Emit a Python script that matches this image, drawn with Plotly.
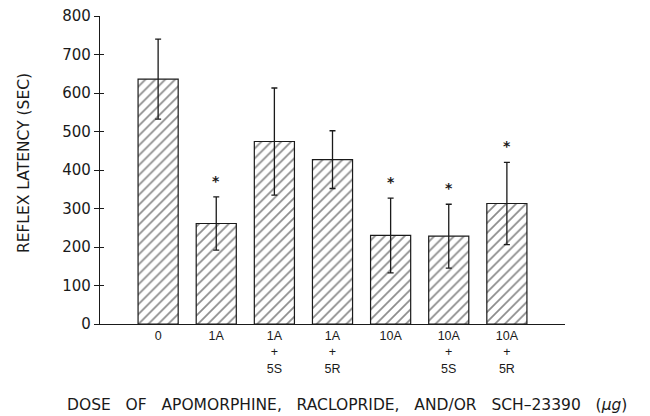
import plotly.graph_objects as go

categories = ["0", "1A", "1A<br>+<br>5S", "1A<br>+<br>5R", "10A", "10A<br>+<br>5S", "10A<br>+<br>5R"]
means = [636, 261, 474, 427, 230, 228, 313]
errors = [104, 69, 139, 75, 97, 83, 107]
significant = [False, True, False, False, True, True, True]
y_ticks = [0, 100, 200, 300, 400, 500, 600, 700, 800]

xpos = list(range(len(categories)))
ink = "#1a1a1a"
font = "DejaVu Sans, sans-serif"
sp = "\u00a0\u00a0 "

fig = go.Figure()
fig.add_trace(go.Bar(
    x=xpos, y=means, width=0.69,
    marker=dict(color="white", line=dict(color=ink, width=1.2),
                pattern=dict(shape="/", fgcolor=ink, bgcolor="white", size=7, solidity=0.25)),
    error_y=dict(type="data", array=errors, color=ink, thickness=1.3, width=3),
    showlegend=False,
))
# crossing ticks on the y axis (inside part)
fig.add_trace(go.Scatter(x=[None], y=[None], yaxis="y2", showlegend=False))

for i, s in enumerate(significant):
    if s:
        fig.add_annotation(x=xpos[i], y=means[i] + errors[i], text="<b>*</b>", showarrow=False,
                           yshift=16, font=dict(size=14, color=ink, family=font))

fig.add_annotation(xref="paper", yref="paper", x=-0.163, y=0.523, xanchor="center", yanchor="middle",
                   text="REFLEX LATENCY (SEC)", textangle=-90, showarrow=False,
                   font=dict(size=15.5, color=ink, family=font))

fig.add_annotation(xref="paper", yref="paper", x=0.531, y=-0.263, xanchor="center", yanchor="middle",
                   text=sp.join(["DOSE", "OF", "APOMORPHINE,", "RACLOPRIDE,", "AND/OR", "SCH–23390", "(<i>μg</i>)"]),
                   showarrow=False, font=dict(size=15.5, color=ink, family=font))

fig.update_layout(
    width=650, height=416,
    margin=dict(l=100, r=85, t=16, b=92, autoexpand=False),
    plot_bgcolor="white", paper_bgcolor="white",
    font=dict(family=font, color=ink),
    xaxis=dict(range=[-1, 7], tickmode="array", tickvals=xpos, ticktext=categories, automargin=False,
               showgrid=False, zeroline=False, showline=True, linecolor=ink, linewidth=1.3,
               ticks="", tickfont=dict(size=12.5, color=ink, family="Liberation Sans, Arial, sans-serif")),
    yaxis=dict(range=[0, 800], tickmode="array", tickvals=y_ticks, showgrid=False, zeroline=False,
               automargin=False,
               showline=True, linecolor=ink, linewidth=1.3, ticks="outside", ticklen=5,
               tickwidth=1.2, tickcolor=ink, tickfont=dict(size=15, color=ink)),
    yaxis2=dict(range=[0, 800], overlaying="y", side="left", tickmode="array", tickvals=y_ticks,
                showticklabels=False, showgrid=False, zeroline=False, showline=False, automargin=False,
                ticks="inside", ticklen=4, tickwidth=1.2, tickcolor=ink),
)

fig.write_html("out.html")
